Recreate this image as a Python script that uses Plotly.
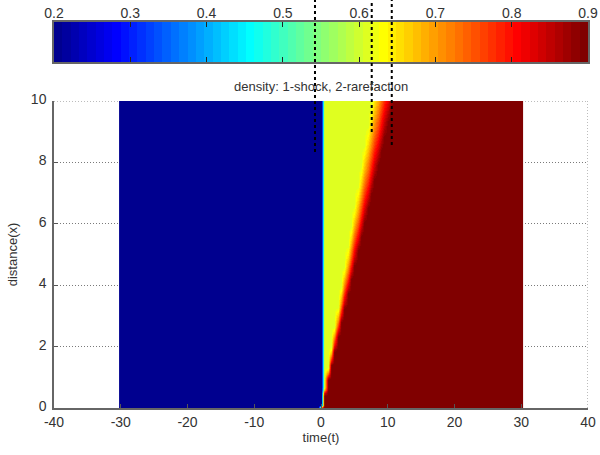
import numpy as np
import plotly.graph_objects as go

# ---- data ----
time_range = [-30, 30]          # extent of the field along time(t)
distance_range = [0, 10]        # extent along distance(x)
states = [0.2, 0.61, 0.9]       # left state, middle state, right state (density)
shock_speed = 0.02              # slope x/y of the 1-shock
fan_head = 0.76                 # slope x/y where the 2-rarefaction begins
fan_tail = 1.08                 # slope x/y where the 2-rarefaction ends
x_ticks = [-40, -30, -20, -10, 0, 10, 20, 30, 40]
x_tick_text = ["-40", "-30", "-20", "-10", "0", "10", "20", "30", "40"]
y_ticks = [0, 2, 4, 6, 8, 10]
cbar_range = [0.2, 0.9]
cbar_ticks = [0.2, 0.3, 0.4, 0.5, 0.6, 0.7, 0.8, 0.9]
cbar_tick_text = ["0.2", "0.3", "0.4", "0.5", "0.6", "0.7", "0.8", "0.9"]
marker_lines = [(-0.9, 152), (7.6, 132), (10.6, 145)]  # (time, lower end in px from top)

# ---- sample grid ----
xs = np.arange(time_range[0], time_range[1] + 0.001, 0.5)
ys = np.arange(distance_range[0], distance_range[1] + 0.001, 0.1)
X, Y = np.meshgrid(xs, ys)
with np.errstate(divide="ignore", invalid="ignore"):
    ratio = np.where(Y > 0, X / np.where(Y > 0, Y, 1), np.sign(X) * np.inf)
Z = np.full(X.shape, states[2])
Z[ratio <= shock_speed] = states[0]
mid = (ratio > shock_speed) & (ratio <= fan_head)
Z[mid] = states[1]
fan = (ratio > fan_head) & (ratio < fan_tail)
Z[fan] = states[1] + (ratio[fan] - fan_head) / (fan_tail - fan_head) * (states[2] - states[1])


def jet(n=64):
    m = int(np.ceil(n / 4))
    u = np.concatenate([np.arange(1, m + 1) / m, np.ones(m - 1), np.arange(m, 0, -1) / m])
    g = int(np.ceil(m / 2)) - (1 if n % 4 == 1 else 0) + np.arange(1, len(u) + 1)
    r = g + m
    b = g - m
    g = g[g <= n]
    r = r[r <= n]
    b = b[b >= 1]
    J = np.zeros((n, 3))
    J[r - 1, 0] = u[: len(r)]
    J[g - 1, 1] = u[: len(g)]
    J[b - 1, 2] = u[-len(b):]
    return J


NC = 64
J = jet(NC)
cscale = []
for i, c in enumerate(J):
    col = "rgb(%d,%d,%d)" % tuple(int(round(v * 255)) for v in c)
    cscale.append([i / NC, col])
    cscale.append([(i + 1) / NC, col])

# colour-bar strip: one cell per colormap entry
cb_step = (cbar_range[1] - cbar_range[0]) / NC
cb_x = [cbar_range[0] + (i + 0.5) * cb_step for i in range(NC)]

font = "Liberation Sans, Arial, sans-serif"
txt = "#333"

fig = go.Figure()
fig.add_trace(go.Heatmap(
    x=xs, y=ys, z=Z, zmin=cbar_range[0], zmax=cbar_range[1], colorscale=cscale,
    zsmooth="best", showscale=False, hoverinfo="skip", xaxis="x", yaxis="y",
))
fig.add_trace(go.Heatmap(
    x=cb_x, y=[0], z=[cb_x], zmin=cbar_range[0], zmax=cbar_range[1], colorscale=cscale,
    showscale=False, hoverinfo="skip", xaxis="x2", yaxis="y2",
))

PLOT_H = 455 - 47  # plot area height in px (t=0)


def py(px):
    return (PLOT_H - px) / PLOT_H


for xv, ylow in marker_lines:
    fig.add_shape(type="line", xref="x", yref="paper", x0=xv, x1=xv, y0=py(ylow), y1=1.0,
                  line=dict(color="black", width=2, dash="dot"), layer="above")

grid_col = "#7a7a7a"
grid_dash = "1px,2px"
# dotted frame on top and right of the main axes (MATLAB grid at the edges)
fig.add_shape(type="line", xref="x", yref="y", x0=-40, x1=40, y0=10, y1=10,
              line=dict(color=grid_col, width=1, dash=grid_dash), layer="below")
fig.add_shape(type="line", xref="x", yref="y", x0=40, x1=40, y0=0, y1=10,
              line=dict(color=grid_col, width=1, dash=grid_dash), layer="below")

fig.add_annotation(text="density: 1-shock, 2-rarefaction", xref="paper", yref="paper",
                   x=0.5, y=py(86), yanchor="middle", showarrow=False,
                   font=dict(family=font, size=13, color=txt))

axis_common = dict(
    showline=True, linecolor="#666", linewidth=1.5, mirror=False,
    showgrid=True, gridcolor=grid_col, griddash=grid_dash, gridwidth=1,
    ticks="inside", ticklen=4, tickcolor="#555",
    zeroline=False, tickfont=dict(family=font, size=14, color=txt), automargin=False,
)
fig.update_layout(
    xaxis=dict(range=[-40, 40], tickvals=x_ticks, ticktext=x_tick_text, domain=[0, 1],
               anchor="y", **axis_common,
               title=dict(text="time(t)", font=dict(family=font, size=13, color=txt), standoff=4)),
    yaxis=dict(range=[0, 10], tickvals=y_ticks, domain=[0, py(101)], anchor="x",
               ticklabelshift=-2, ticklabelstandoff=3, **axis_common,
               title=dict(text="distance(x)", font=dict(family=font, size=13, color=txt), standoff=10)),
    xaxis2=dict(range=cbar_range, tickvals=cbar_ticks, ticktext=cbar_tick_text,
                domain=[0, 1], anchor="y2", side="top", showline=True, mirror="ticks",
                linecolor="#666", linewidth=1.5, ticks="inside", ticklen=5, tickcolor="#222",
                showgrid=False, zeroline=False, automargin=False, ticklabelstandoff=-3,
                tickfont=dict(family=font, size=14, color=txt)),
    yaxis2=dict(range=[-0.5, 0.5], domain=[py(62), py(22)], anchor="x2", showticklabels=False,
                showgrid=False, zeroline=False, ticks="", showline=True, mirror=True,
                linecolor="#666", linewidth=1.5, automargin=False),
    width=600, height=455,
    margin=dict(l=54, r=12, t=0, b=47, autoexpand=False),
    plot_bgcolor="white", paper_bgcolor="white",
    showlegend=False,
)

fig.write_html("out.html")
